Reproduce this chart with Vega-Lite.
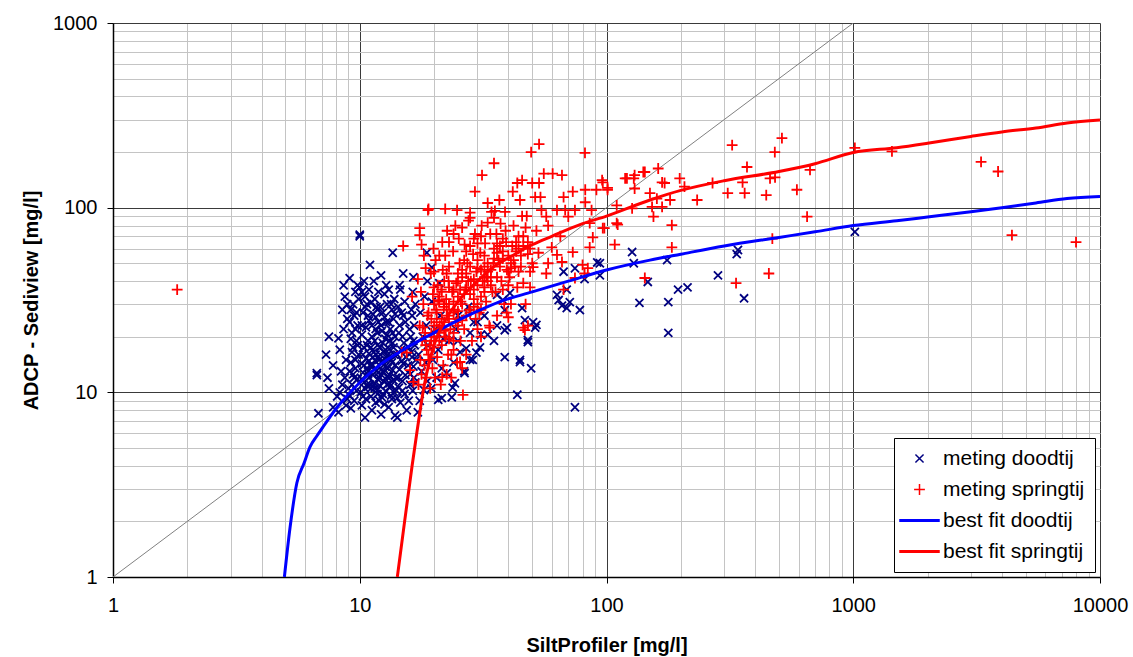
{
"$schema": "https://vega.github.io/schema/vega-lite/v6.json",
"width": 987, "height": 554,
"autosize": {"type": "none"},
"padding": {"left": 113, "top": 23, "right": 33, "bottom": 80},
"background": "white",
"config": {"view": {"stroke": null}, "font": "Liberation Sans"},
"datasets": {
"diag": [{"x":1,"y":1},{"x":1000,"y":1000}],
"fits": [
{"s":"best fit doodtij","x":4.95,"y":1},{"s":"best fit doodtij","x":5.22,"y":1.86},{"s":"best fit doodtij","x":5.56,"y":3.23},{"s":"best fit doodtij","x":5.95,"y":4.14},{"s":"best fit doodtij","x":6.28,"y":5.05},{"s":"best fit doodtij","x":6.7,"y":5.8},{"s":"best fit doodtij","x":7.1,"y":6.5},{"s":"best fit doodtij","x":8.1,"y":8.3},{"s":"best fit doodtij","x":9.8,"y":11},{"s":"best fit doodtij","x":12,"y":14},{"s":"best fit doodtij","x":15,"y":17},{"s":"best fit doodtij","x":20,"y":21},{"s":"best fit doodtij","x":25,"y":24.5},{"s":"best fit doodtij","x":30,"y":27.5},{"s":"best fit doodtij","x":37,"y":31},{"s":"best fit doodtij","x":50,"y":35},{"s":"best fit doodtij","x":70,"y":40},{"s":"best fit doodtij","x":100,"y":46},{"s":"best fit doodtij","x":150,"y":52},{"s":"best fit doodtij","x":200,"y":56},{"s":"best fit doodtij","x":300,"y":62},{"s":"best fit doodtij","x":500,"y":69},{"s":"best fit doodtij","x":700,"y":74},{"s":"best fit doodtij","x":1000,"y":80},{"s":"best fit doodtij","x":1500,"y":85},{"s":"best fit doodtij","x":2000,"y":89},{"s":"best fit doodtij","x":3000,"y":95},{"s":"best fit doodtij","x":4000,"y":100},{"s":"best fit doodtij","x":5500,"y":106},{"s":"best fit doodtij","x":7350,"y":112},{"s":"best fit doodtij","x":10000,"y":115},
{"s":"best fit springtij","x":14.2,"y":1},{"s":"best fit springtij","x":15.2,"y":2},{"s":"best fit springtij","x":16.3,"y":4},{"s":"best fit springtij","x":17.1,"y":6.25},{"s":"best fit springtij","x":18.2,"y":10.7},{"s":"best fit springtij","x":19,"y":14},{"s":"best fit springtij","x":20,"y":18},{"s":"best fit springtij","x":22,"y":24},{"s":"best fit springtij","x":25,"y":31},{"s":"best fit springtij","x":30,"y":40},{"s":"best fit springtij","x":35,"y":48},{"s":"best fit springtij","x":40.6,"y":54},{"s":"best fit springtij","x":50,"y":63},{"s":"best fit springtij","x":60,"y":70},{"s":"best fit springtij","x":80,"y":82},{"s":"best fit springtij","x":100,"y":90},{"s":"best fit springtij","x":150,"y":110},{"s":"best fit springtij","x":200,"y":124},{"s":"best fit springtij","x":300,"y":140},{"s":"best fit springtij","x":500,"y":157},{"s":"best fit springtij","x":700,"y":173},{"s":"best fit springtij","x":1000,"y":199},{"s":"best fit springtij","x":1500,"y":211},{"s":"best fit springtij","x":2000,"y":223},{"s":"best fit springtij","x":3000,"y":243},{"s":"best fit springtij","x":4000,"y":257},{"s":"best fit springtij","x":5500,"y":270},{"s":"best fit springtij","x":7350,"y":287},{"s":"best fit springtij","x":10000,"y":298}
],
"meting": [
{"s":"meting doodtij","x":10,"y":70},{"s":"meting doodtij","x":10,"y":71.5},{"s":"meting doodtij","x":13.6,"y":57},{"s":"meting doodtij","x":18.7,"y":57},{"s":"meting doodtij","x":11,"y":49},{"s":"meting doodtij","x":9.1,"y":41.5},{"s":"meting doodtij","x":10,"y":37},{"s":"meting doodtij","x":19.6,"y":47.5},{"s":"meting doodtij","x":21,"y":39},{"s":"meting doodtij","x":6.7,"y":12.4},{"s":"meting doodtij","x":6.8,"y":7.7},{"s":"meting doodtij","x":7.8,"y":8.3},{"s":"meting doodtij","x":8.2,"y":7.8},{"s":"meting doodtij","x":10.5,"y":7.3},{"s":"meting doodtij","x":13.9,"y":7.5},{"s":"meting doodtij","x":14.2,"y":7.3},{"s":"meting doodtij","x":15.5,"y":8},{"s":"meting doodtij","x":17.2,"y":7.8},{"s":"meting doodtij","x":20.8,"y":9.1},{"s":"meting doodtij","x":21.5,"y":9.3},{"s":"meting doodtij","x":23.6,"y":9.4},{"s":"meting doodtij","x":23.8,"y":10.6},{"s":"meting doodtij","x":24.3,"y":11.2},{"s":"meting doodtij","x":26.6,"y":12.7},{"s":"meting doodtij","x":28.7,"y":15},{"s":"meting doodtij","x":29.7,"y":16.4},{"s":"meting doodtij","x":30.7,"y":17.5},{"s":"meting doodtij","x":27,"y":17.3},{"s":"meting doodtij","x":33,"y":20.5},{"s":"meting doodtij","x":38.7,"y":15.5},{"s":"meting doodtij","x":44.6,"y":14.6},{"s":"meting doodtij","x":49.5,"y":13.5},{"s":"meting doodtij","x":43.5,"y":9.7},{"s":"meting doodtij","x":74.5,"y":8.3},{"s":"meting doodtij","x":38.7,"y":21.7},{"s":"meting doodtij","x":39.5,"y":22.4},{"s":"meting doodtij","x":45.5,"y":28.6},{"s":"meting doodtij","x":38.7,"y":27.9},{"s":"meting doodtij","x":46.7,"y":24.6},{"s":"meting doodtij","x":50.4,"y":24},{"s":"meting doodtij","x":52,"y":23.2},{"s":"meting doodtij","x":51.4,"y":22.4},{"s":"meting doodtij","x":48,"y":19.2},{"s":"meting doodtij","x":48,"y":18.7},{"s":"meting doodtij","x":44.6,"y":15},{"s":"meting doodtij","x":67,"y":45},{"s":"meting doodtij","x":74.5,"y":47},{"s":"meting doodtij","x":91.7,"y":50.5},{"s":"meting doodtij","x":94,"y":43},{"s":"meting doodtij","x":94,"y":50},{"s":"meting doodtij","x":81.5,"y":41},{"s":"meting doodtij","x":69,"y":36},{"s":"meting doodtij","x":63,"y":33.7},{"s":"meting doodtij","x":64,"y":31.6},{"s":"meting doodtij","x":66,"y":29.5},{"s":"meting doodtij","x":71,"y":30.8},{"s":"meting doodtij","x":69,"y":28.6},{"s":"meting doodtij","x":78,"y":27.9},{"s":"meting doodtij","x":127,"y":57.5},{"s":"meting doodtij","x":129,"y":50},{"s":"meting doodtij","x":176,"y":52},{"s":"meting doodtij","x":147,"y":39.6},{"s":"meting doodtij","x":136,"y":30.5},{"s":"meting doodtij","x":178,"y":30.8},{"s":"meting doodtij","x":178,"y":21},{"s":"meting doodtij","x":195,"y":36},{"s":"meting doodtij","x":213,"y":37},{"s":"meting doodtij","x":283,"y":43},{"s":"meting doodtij","x":341,"y":59},{"s":"meting doodtij","x":337,"y":56},{"s":"meting doodtij","x":361,"y":32.3},{"s":"meting doodtij","x":1015,"y":74},{"s":"meting doodtij","x":8.2,"y":19.6},{"s":"meting doodtij","x":7.3,"y":16},{"s":"meting doodtij","x":7.5,"y":10.5},{"s":"meting doodtij","x":8.6,"y":38},{"s":"meting doodtij","x":8.9,"y":30},{"s":"meting doodtij","x":12.2,"y":43},{"s":"meting doodtij","x":15,"y":44},{"s":"meting doodtij","x":16.5,"y":42},{"s":"meting doodtij","x":14.5,"y":38},{"s":"meting doodtij","x":35,"y":19},{"s":"meting doodtij","x":36,"y":23},{"s":"meting doodtij","x":32,"y":26},{"s":"meting doodtij","x":30,"y":24},{"s":"meting doodtij","x":28,"y":21},{"s":"meting doodtij","x":25,"y":19},{"s":"meting doodtij","x":40.6,"y":34.5},{"s":"meting doodtij","x":38,"y":31.6},{"s":"meting doodtij","x":36,"y":33.7},{"s":"meting doodtij","x":6.7,"y":12.7},
{"s":"meting doodtij","x":7.4,"y":12},{"s":"meting doodtij","x":7.8,"y":14},{"s":"meting doodtij","x":7.5,"y":20},
{"s":"meting doodtij","x":8.1,"y":9.5},{"s":"meting doodtij","x":8.3,"y":10},{"s":"meting doodtij","x":8.5,"y":11},{"s":"meting doodtij","x":8.7,"y":12},{"s":"meting doodtij","x":8.4,"y":13},{"s":"meting doodtij","x":8.8,"y":15},{"s":"meting doodtij","x":8.3,"y":17},{"s":"meting doodtij","x":8.6,"y":22},{"s":"meting doodtij","x":8.9,"y":25},{"s":"meting doodtij","x":8.5,"y":28},{"s":"meting doodtij","x":8.7,"y":33},{"s":"meting doodtij","x":8.8,"y":8.5},{"s":"meting doodtij","x":8.9,"y":9.2},
{"s":"meting doodtij","x":9.2,"y":8.2},{"s":"meting doodtij","x":9.5,"y":9},{"s":"meting doodtij","x":9.1,"y":9.6},{"s":"meting doodtij","x":9.7,"y":10.2},{"s":"meting doodtij","x":9.3,"y":11},{"s":"meting doodtij","x":9.8,"y":11.8},{"s":"meting doodtij","x":9.4,"y":12.5},{"s":"meting doodtij","x":9.6,"y":13.5},{"s":"meting doodtij","x":9.2,"y":14.5},{"s":"meting doodtij","x":9.9,"y":16},{"s":"meting doodtij","x":9.4,"y":17.5},{"s":"meting doodtij","x":9.7,"y":19},{"s":"meting doodtij","x":9.3,"y":21},{"s":"meting doodtij","x":9.8,"y":23},{"s":"meting doodtij","x":9.5,"y":26},{"s":"meting doodtij","x":9.2,"y":28},{"s":"meting doodtij","x":9.9,"y":32},{"s":"meting doodtij","x":9.6,"y":35},
{"s":"meting doodtij","x":10.2,"y":8.5},{"s":"meting doodtij","x":10.6,"y":9.2},{"s":"meting doodtij","x":10.1,"y":10},{"s":"meting doodtij","x":10.8,"y":10.7},{"s":"meting doodtij","x":10.4,"y":11.3},{"s":"meting doodtij","x":10.9,"y":12},{"s":"meting doodtij","x":10.3,"y":12.8},{"s":"meting doodtij","x":10.7,"y":13.5},{"s":"meting doodtij","x":10.2,"y":14.3},{"s":"meting doodtij","x":10.6,"y":15.2},{"s":"meting doodtij","x":10.9,"y":16.2},{"s":"meting doodtij","x":10.4,"y":17.5},{"s":"meting doodtij","x":10.8,"y":19},{"s":"meting doodtij","x":10.2,"y":20.5},{"s":"meting doodtij","x":10.6,"y":22.5},{"s":"meting doodtij","x":10.9,"y":24.5},{"s":"meting doodtij","x":10.3,"y":27},{"s":"meting doodtij","x":10.7,"y":30},{"s":"meting doodtij","x":10.5,"y":33},{"s":"meting doodtij","x":10.9,"y":36},{"s":"meting doodtij","x":10.4,"y":40},
{"s":"meting doodtij","x":11.2,"y":8},{"s":"meting doodtij","x":11.6,"y":8.8},{"s":"meting doodtij","x":11.1,"y":9.5},{"s":"meting doodtij","x":11.8,"y":10.3},{"s":"meting doodtij","x":11.4,"y":11},{"s":"meting doodtij","x":11.9,"y":11.7},{"s":"meting doodtij","x":11.3,"y":12.4},{"s":"meting doodtij","x":11.7,"y":13.1},{"s":"meting doodtij","x":11.2,"y":13.9},{"s":"meting doodtij","x":11.6,"y":14.7},{"s":"meting doodtij","x":11.9,"y":15.6},{"s":"meting doodtij","x":11.4,"y":16.5},{"s":"meting doodtij","x":11.8,"y":18},{"s":"meting doodtij","x":11.2,"y":20},{"s":"meting doodtij","x":11.6,"y":22},{"s":"meting doodtij","x":11.9,"y":24},{"s":"meting doodtij","x":11.3,"y":26.5},{"s":"meting doodtij","x":11.7,"y":29},{"s":"meting doodtij","x":11.5,"y":32},{"s":"meting doodtij","x":11.9,"y":35},{"s":"meting doodtij","x":11.4,"y":40},
{"s":"meting doodtij","x":12.2,"y":7.6},{"s":"meting doodtij","x":12.6,"y":8.6},{"s":"meting doodtij","x":12.3,"y":9.4},{"s":"meting doodtij","x":12.8,"y":10.1},{"s":"meting doodtij","x":12.1,"y":10.8},{"s":"meting doodtij","x":12.5,"y":11.5},{"s":"meting doodtij","x":12.9,"y":12.2},{"s":"meting doodtij","x":12.4,"y":13},{"s":"meting doodtij","x":12.7,"y":13.8},{"s":"meting doodtij","x":12.2,"y":14.6},{"s":"meting doodtij","x":12.8,"y":15.5},{"s":"meting doodtij","x":12.5,"y":16.5},{"s":"meting doodtij","x":12.1,"y":17.5},{"s":"meting doodtij","x":12.7,"y":19.5},{"s":"meting doodtij","x":12.3,"y":21.5},{"s":"meting doodtij","x":12.8,"y":24},{"s":"meting doodtij","x":12.4,"y":27},{"s":"meting doodtij","x":12.9,"y":30},{"s":"meting doodtij","x":12.6,"y":34},
{"s":"meting doodtij","x":13.1,"y":8.3},{"s":"meting doodtij","x":13.5,"y":9.2},{"s":"meting doodtij","x":13.8,"y":10},{"s":"meting doodtij","x":13.3,"y":10.8},{"s":"meting doodtij","x":13.7,"y":11.6},{"s":"meting doodtij","x":13.2,"y":12.4},{"s":"meting doodtij","x":13.6,"y":13.2},{"s":"meting doodtij","x":13.9,"y":14},{"s":"meting doodtij","x":13.4,"y":15},{"s":"meting doodtij","x":13.8,"y":16},{"s":"meting doodtij","x":13.2,"y":17.2},{"s":"meting doodtij","x":13.6,"y":18.5},{"s":"meting doodtij","x":13.9,"y":20},{"s":"meting doodtij","x":13.3,"y":22},{"s":"meting doodtij","x":13.7,"y":25},{"s":"meting doodtij","x":13.5,"y":28},{"s":"meting doodtij","x":13.8,"y":32},
{"s":"meting doodtij","x":14.6,"y":8.8},{"s":"meting doodtij","x":15.2,"y":9.8},{"s":"meting doodtij","x":14.4,"y":10.6},{"s":"meting doodtij","x":14.9,"y":11.5},{"s":"meting doodtij","x":15.3,"y":12.4},{"s":"meting doodtij","x":14.5,"y":13.3},{"s":"meting doodtij","x":15,"y":14.3},{"s":"meting doodtij","x":15.4,"y":15.5},{"s":"meting doodtij","x":14.7,"y":17},{"s":"meting doodtij","x":15.1,"y":18.5},{"s":"meting doodtij","x":14.4,"y":21},{"s":"meting doodtij","x":15.3,"y":24},{"s":"meting doodtij","x":14.8,"y":27},{"s":"meting doodtij","x":15.2,"y":31},{"s":"meting doodtij","x":14.6,"y":36},
{"s":"meting doodtij","x":15.8,"y":9},{"s":"meting doodtij","x":16.4,"y":10.2},{"s":"meting doodtij","x":16.8,"y":11.3},{"s":"meting doodtij","x":16,"y":12.5},{"s":"meting doodtij","x":16.5,"y":13.8},{"s":"meting doodtij","x":16.9,"y":15},{"s":"meting doodtij","x":16.2,"y":16.5},{"s":"meting doodtij","x":16.7,"y":18},{"s":"meting doodtij","x":16.1,"y":20},{"s":"meting doodtij","x":16.6,"y":23},{"s":"meting doodtij","x":16.3,"y":26},{"s":"meting doodtij","x":16.8,"y":30},{"s":"meting doodtij","x":16.4,"y":35},
{"s":"meting doodtij","x":17.5,"y":9},{"s":"meting doodtij","x":18.2,"y":10.3},{"s":"meting doodtij","x":18.8,"y":11.5},{"s":"meting doodtij","x":17.8,"y":13},{"s":"meting doodtij","x":18.5,"y":14.5},{"s":"meting doodtij","x":17.3,"y":16},{"s":"meting doodtij","x":18.9,"y":18},{"s":"meting doodtij","x":18,"y":20},{"s":"meting doodtij","x":18.6,"y":23},{"s":"meting doodtij","x":17.6,"y":27},{"s":"meting doodtij","x":18.3,"y":33},{"s":"meting doodtij","x":18.8,"y":40},
{"s":"meting doodtij","x":19.5,"y":10.5},{"s":"meting doodtij","x":20.5,"y":12},{"s":"meting doodtij","x":21.5,"y":13.5},{"s":"meting doodtij","x":19.8,"y":15},{"s":"meting doodtij","x":20.8,"y":17},{"s":"meting doodtij","x":21.8,"y":19.5},{"s":"meting doodtij","x":20.2,"y":22},{"s":"meting doodtij","x":21.2,"y":26},{"s":"meting doodtij","x":19.6,"y":31},
{"s":"meting doodtij","x":22.5,"y":12.7},{"s":"meting doodtij","x":24,"y":14.5},{"s":"meting doodtij","x":25.5,"y":16.5},{"s":"meting doodtij","x":23,"y":19},{"s":"meting doodtij","x":24.5,"y":22},{"s":"meting doodtij","x":25,"y":26},
{"s":"meting doodtij","x":26.5,"y":13},{"s":"meting doodtij","x":28,"y":15},{"s":"meting doodtij","x":31,"y":20.5},{"s":"meting doodtij","x":29,"y":24},{"s":"meting doodtij","x":27.5,"y":29},
{"s":"meting doodtij","x":11,"y":11},{"s":"meting doodtij","x":12,"y":12},{"s":"meting doodtij","x":13,"y":13.5},{"s":"meting doodtij","x":11.5,"y":10.5},{"s":"meting doodtij","x":12.5,"y":12.8},{"s":"meting doodtij","x":10.5,"y":10.5},{"s":"meting doodtij","x":11.8,"y":9.8},{"s":"meting doodtij","x":13.2,"y":11.2},{"s":"meting doodtij","x":12,"y":9},{"s":"meting doodtij","x":14,"y":12},{"s":"meting doodtij","x":11,"y":14},{"s":"meting doodtij","x":12,"y":15},{"s":"meting doodtij","x":13,"y":16},{"s":"meting doodtij","x":10.8,"y":13},{"s":"meting doodtij","x":11.3,"y":15.5},
{"s":"meting doodtij","x":9.0,"y":10.5},{"s":"meting doodtij","x":9.5,"y":12},{"s":"meting doodtij","x":9.1,"y":13},{"s":"meting doodtij","x":9.6,"y":15},{"s":"meting doodtij","x":9.3,"y":16.5},{"s":"meting doodtij","x":9.8,"y":18},{"s":"meting doodtij","x":9.2,"y":19.5},{"s":"meting doodtij","x":9.6,"y":22},{"s":"meting doodtij","x":9.1,"y":24},{"s":"meting doodtij","x":9.7,"y":27},{"s":"meting doodtij","x":9.4,"y":30},{"s":"meting doodtij","x":9.8,"y":38},
{"s":"meting doodtij","x":10.3,"y":9.5},{"s":"meting doodtij","x":10.7,"y":11},{"s":"meting doodtij","x":10.2,"y":11.8},{"s":"meting doodtij","x":10.8,"y":12.5},{"s":"meting doodtij","x":10.4,"y":14},{"s":"meting doodtij","x":10.9,"y":14.8},{"s":"meting doodtij","x":10.3,"y":16},{"s":"meting doodtij","x":10.7,"y":18},{"s":"meting doodtij","x":10.2,"y":23},{"s":"meting doodtij","x":10.8,"y":26},{"s":"meting doodtij","x":10.5,"y":29},{"s":"meting doodtij","x":10.2,"y":35},
{"s":"meting doodtij","x":11.1,"y":10.5},{"s":"meting doodtij","x":11.5,"y":11.2},{"s":"meting doodtij","x":11.9,"y":12.8},{"s":"meting doodtij","x":11.2,"y":14.2},{"s":"meting doodtij","x":11.6,"y":16},{"s":"meting doodtij","x":11.1,"y":17.5},{"s":"meting doodtij","x":11.5,"y":19},{"s":"meting doodtij","x":11.8,"y":21},{"s":"meting doodtij","x":11.2,"y":23},{"s":"meting doodtij","x":11.6,"y":25.5},{"s":"meting doodtij","x":11.8,"y":28},{"s":"meting doodtij","x":11.1,"y":30.5},
{"s":"meting doodtij","x":12.4,"y":9.8},{"s":"meting doodtij","x":12.9,"y":11},{"s":"meting doodtij","x":12.2,"y":12.5},{"s":"meting doodtij","x":12.6,"y":14.2},{"s":"meting doodtij","x":12.1,"y":16},{"s":"meting doodtij","x":12.7,"y":17},{"s":"meting doodtij","x":12.4,"y":18.5},{"s":"meting doodtij","x":12.9,"y":20.5},{"s":"meting doodtij","x":12.2,"y":23},{"s":"meting doodtij","x":12.6,"y":25.5},{"s":"meting doodtij","x":12.1,"y":29},{"s":"meting doodtij","x":12.8,"y":38},
{"s":"meting doodtij","x":13.4,"y":9.6},{"s":"meting doodtij","x":13.9,"y":10.4},{"s":"meting doodtij","x":13.1,"y":11.9},{"s":"meting doodtij","x":13.5,"y":14.5},{"s":"meting doodtij","x":13.1,"y":15.5},{"s":"meting doodtij","x":13.7,"y":17.5},{"s":"meting doodtij","x":13.2,"y":19},{"s":"meting doodtij","x":13.6,"y":21},{"s":"meting doodtij","x":13.1,"y":24},{"s":"meting doodtij","x":13.9,"y":26.5},{"s":"meting doodtij","x":13.4,"y":30},{"s":"meting doodtij","x":13.1,"y":36},
{"s":"meting doodtij","x":14.2,"y":9.3},{"s":"meting doodtij","x":14.9,"y":10.2},{"s":"meting doodtij","x":14.3,"y":12},{"s":"meting doodtij","x":14.8,"y":14.8},{"s":"meting doodtij","x":14.2,"y":16},{"s":"meting doodtij","x":14.9,"y":20},{"s":"meting doodtij","x":14.5,"y":23},{"s":"meting doodtij","x":15,"y":26},{"s":"meting doodtij","x":14.3,"y":29},
{"s":"meting doodtij","x":16,"y":11},{"s":"meting doodtij","x":16.6,"y":12},{"s":"meting doodtij","x":15.7,"y":14},{"s":"meting doodtij","x":16.3,"y":15.5},{"s":"meting doodtij","x":15.8,"y":17.5},{"s":"meting doodtij","x":16.5,"y":19},{"s":"meting doodtij","x":15.9,"y":22},{"s":"meting doodtij","x":16.2,"y":28},
{"s":"meting springtij","x":1.82,"y":36},{"s":"meting springtij","x":53.3,"y":221},{"s":"meting springtij","x":49.5,"y":200},{"s":"meting springtij","x":35,"y":174},{"s":"meting springtij","x":31.3,"y":150},{"s":"meting springtij","x":55.7,"y":153},{"s":"meting springtij","x":53.3,"y":136},{"s":"meting springtij","x":45.5,"y":141},{"s":"meting springtij","x":43.5,"y":136},{"s":"meting springtij","x":41.7,"y":122},{"s":"meting springtij","x":29.3,"y":122},{"s":"meting springtij","x":44.6,"y":110},{"s":"meting springtij","x":19,"y":98.5},{"s":"meting springtij","x":22.2,"y":98.5},{"s":"meting springtij","x":24.8,"y":97},{"s":"meting springtij","x":28,"y":94},{"s":"meting springtij","x":33,"y":106},{"s":"meting springtij","x":35.3,"y":96},{"s":"meting springtij","x":17.5,"y":77.5},{"s":"meting springtij","x":17.5,"y":71},{"s":"meting springtij","x":15,"y":62},{"s":"meting springtij","x":51.4,"y":114},{"s":"meting springtij","x":81.8,"y":198},{"s":"meting springtij","x":96,"y":141},{"s":"meting springtij","x":101,"y":128},{"s":"meting springtij","x":121,"y":144},{"s":"meting springtij","x":130,"y":150},{"s":"meting springtij","x":143,"y":156},{"s":"meting springtij","x":66,"y":150},{"s":"meting springtij","x":60.5,"y":153},{"s":"meting springtij","x":73,"y":122},{"s":"meting springtij","x":82,"y":125},{"s":"meting springtij","x":91,"y":125},{"s":"meting springtij","x":82,"y":107},{"s":"meting springtij","x":74.5,"y":97},{"s":"meting springtij","x":87,"y":97},{"s":"meting springtij","x":67,"y":114},{"s":"meting springtij","x":63,"y":97},{"s":"meting springtij","x":54.5,"y":97},{"s":"meting springtij","x":57,"y":89.5},{"s":"meting springtij","x":70,"y":89.5},{"s":"meting springtij","x":85.5,"y":82.5},{"s":"meting springtij","x":98,"y":77.5},{"s":"meting springtij","x":110,"y":82.5},{"s":"meting springtij","x":88,"y":69},{"s":"meting springtij","x":85.5,"y":61},{"s":"meting springtij","x":73,"y":57.5},{"s":"meting springtij","x":63,"y":55.5},{"s":"meting springtij","x":66,"y":50.8},{"s":"meting springtij","x":58,"y":50},{"s":"meting springtij","x":50.4,"y":47.6},{"s":"meting springtij","x":49,"y":45},{"s":"meting springtij","x":46,"y":39},{"s":"meting springtij","x":49,"y":37},{"s":"meting springtij","x":80,"y":49},{"s":"meting springtij","x":81.5,"y":44},{"s":"meting springtij","x":67,"y":36},{"s":"meting springtij","x":46.7,"y":21.7},{"s":"meting springtij","x":48,"y":23},{"s":"meting springtij","x":40,"y":25.5},{"s":"meting springtij","x":33.7,"y":22.4},{"s":"meting springtij","x":32.6,"y":42},{"s":"meting springtij","x":25,"y":44},{"s":"meting springtij","x":20,"y":37},{"s":"meting springtij","x":20.8,"y":31.6},{"s":"meting springtij","x":46,"y":22.4},{"s":"meting springtij","x":74.5,"y":41.6},{"s":"meting springtij","x":84,"y":47},{"s":"meting springtij","x":39.4,"y":27},
{"s":"meting springtij","x":323,"y":218},{"s":"meting springtij","x":514,"y":238},{"s":"meting springtij","x":481,"y":200},{"s":"meting springtij","x":371,"y":166},{"s":"meting springtij","x":668,"y":160},{"s":"meting springtij","x":460,"y":144},{"s":"meting springtij","x":482,"y":146},{"s":"meting springtij","x":356,"y":137},{"s":"meting springtij","x":591,"y":125},{"s":"meting springtij","x":310,"y":120},{"s":"meting springtij","x":363,"y":120},{"s":"meting springtij","x":444,"y":117},{"s":"meting springtij","x":269,"y":136},{"s":"meting springtij","x":233,"y":110},{"s":"meting springtij","x":650,"y":89.5},{"s":"meting springtij","x":470,"y":68},{"s":"meting springtij","x":455,"y":44},{"s":"meting springtij","x":335,"y":39},{"s":"meting springtij","x":143,"y":41.6},{"s":"meting springtij","x":184,"y":61},{"s":"meting springtij","x":184,"y":80.5},{"s":"meting springtij","x":198,"y":144},{"s":"meting springtij","x":207,"y":130},{"s":"meting springtij","x":172,"y":136},{"s":"meting springtij","x":162,"y":163},{"s":"meting springtij","x":141,"y":156},{"s":"meting springtij","x":129,"y":144},{"s":"meting springtij","x":119,"y":144},{"s":"meting springtij","x":130,"y":127},{"s":"meting springtij","x":150,"y":120},{"s":"meting springtij","x":160,"y":112},{"s":"meting springtij","x":168,"y":137},{"s":"meting springtij","x":181,"y":110},{"s":"meting springtij","x":153,"y":101},{"s":"meting springtij","x":168,"y":101},{"s":"meting springtij","x":155,"y":89.5},{"s":"meting springtij","x":127,"y":99},{"s":"meting springtij","x":110,"y":103},{"s":"meting springtij","x":96.6,"y":137},{"s":"meting springtij","x":101,"y":125},{"s":"meting springtij","x":96.6,"y":77.5},{"s":"meting springtij","x":111,"y":81},{"s":"meting springtij","x":108,"y":63},
{"s":"meting springtij","x":1015,"y":211},{"s":"meting springtij","x":1435,"y":202},{"s":"meting springtij","x":3296,"y":177},{"s":"meting springtij","x":3863,"y":157},{"s":"meting springtij","x":4397,"y":71},{"s":"meting springtij","x":7996,"y":65},
{"s":"meting springtij","x":18.9,"y":97},{"s":"meting springtij","x":17.2,"y":41},{"s":"meting springtij","x":16.3,"y":33},{"s":"meting springtij","x":14.8,"y":16.5},{"s":"meting springtij","x":15.5,"y":16.4},{"s":"meting springtij","x":16,"y":13.2},{"s":"meting springtij","x":16.5,"y":11.4},{"s":"meting springtij","x":26.2,"y":9.7},{"s":"meting springtij","x":21.6,"y":12.1},{"s":"meting springtij","x":26,"y":13.5},{"s":"meting springtij","x":25.5,"y":14.6},
{"s":"meting springtij","x":17.3,"y":11},{"s":"meting springtij","x":17.8,"y":12.5},{"s":"meting springtij","x":18.3,"y":14},{"s":"meting springtij","x":17.6,"y":15},{"s":"meting springtij","x":18.7,"y":17},{"s":"meting springtij","x":17.9,"y":19},{"s":"meting springtij","x":18.4,"y":21},{"s":"meting springtij","x":17.5,"y":23},{"s":"meting springtij","x":18.8,"y":26},{"s":"meting springtij","x":18.1,"y":30},{"s":"meting springtij","x":17.7,"y":35},{"s":"meting springtij","x":18.5,"y":47},{"s":"meting springtij","x":18.2,"y":55},{"s":"meting springtij","x":17.8,"y":63},
{"s":"meting springtij","x":19.3,"y":10.5},{"s":"meting springtij","x":20.2,"y":12},{"s":"meting springtij","x":19.7,"y":13.5},{"s":"meting springtij","x":20.6,"y":15.5},{"s":"meting springtij","x":19.2,"y":18},{"s":"meting springtij","x":20,"y":20},{"s":"meting springtij","x":20.8,"y":22},{"s":"meting springtij","x":19.5,"y":25},{"s":"meting springtij","x":20.4,"y":28},{"s":"meting springtij","x":19.8,"y":34},{"s":"meting springtij","x":20.7,"y":38},{"s":"meting springtij","x":19.4,"y":44},{"s":"meting springtij","x":20.3,"y":52},{"s":"meting springtij","x":19.9,"y":60},
{"s":"meting springtij","x":21.3,"y":11},{"s":"meting springtij","x":22.5,"y":12.5},{"s":"meting springtij","x":21.8,"y":14},{"s":"meting springtij","x":22.8,"y":16},{"s":"meting springtij","x":21.5,"y":18},{"s":"meting springtij","x":22.3,"y":20},{"s":"meting springtij","x":21.1,"y":23},{"s":"meting springtij","x":22.7,"y":26},{"s":"meting springtij","x":21.9,"y":29},{"s":"meting springtij","x":22.4,"y":32},{"s":"meting springtij","x":21.4,"y":36},{"s":"meting springtij","x":22.9,"y":40},{"s":"meting springtij","x":21.7,"y":46},{"s":"meting springtij","x":22.2,"y":55},{"s":"meting springtij","x":21.6,"y":65},{"s":"meting springtij","x":22.6,"y":75},
{"s":"meting springtij","x":23.5,"y":12},{"s":"meting springtij","x":24.8,"y":14.5},{"s":"meting springtij","x":24,"y":17},{"s":"meting springtij","x":25.6,"y":19},{"s":"meting springtij","x":23.3,"y":22},{"s":"meting springtij","x":25,"y":25},{"s":"meting springtij","x":24.2,"y":28},{"s":"meting springtij","x":25.7,"y":31},{"s":"meting springtij","x":23.7,"y":35},{"s":"meting springtij","x":24.6,"y":39},{"s":"meting springtij","x":25.4,"y":50},{"s":"meting springtij","x":23.9,"y":58},{"s":"meting springtij","x":25.2,"y":68},{"s":"meting springtij","x":24.4,"y":80},
{"s":"meting springtij","x":27,"y":16},{"s":"meting springtij","x":28.5,"y":19},{"s":"meting springtij","x":26.5,"y":22},{"s":"meting springtij","x":29.5,"y":25},{"s":"meting springtij","x":27.8,"y":28},{"s":"meting springtij","x":29,"y":32},{"s":"meting springtij","x":26.8,"y":36},{"s":"meting springtij","x":28.2,"y":40},{"s":"meting springtij","x":29.7,"y":45},{"s":"meting springtij","x":27.3,"y":50},{"s":"meting springtij","x":28.8,"y":56},{"s":"meting springtij","x":26.6,"y":63},{"s":"meting springtij","x":29.3,"y":72},{"s":"meting springtij","x":27.6,"y":85},
{"s":"meting springtij","x":31,"y":20},{"s":"meting springtij","x":33.5,"y":23},{"s":"meting springtij","x":30.5,"y":27},{"s":"meting springtij","x":32.5,"y":31},{"s":"meting springtij","x":34.5,"y":35},{"s":"meting springtij","x":31.5,"y":40},{"s":"meting springtij","x":33,"y":45},{"s":"meting springtij","x":34.8,"y":50},{"s":"meting springtij","x":30.8,"y":57},{"s":"meting springtij","x":32.2,"y":64},{"s":"meting springtij","x":33.8,"y":72},{"s":"meting springtij","x":31.2,"y":80},{"s":"meting springtij","x":34.2,"y":95},
{"s":"meting springtij","x":36,"y":26},{"s":"meting springtij","x":38.5,"y":30},{"s":"meting springtij","x":35.5,"y":35},{"s":"meting springtij","x":37.5,"y":40},{"s":"meting springtij","x":39.5,"y":46},{"s":"meting springtij","x":36.5,"y":52},{"s":"meting springtij","x":38,"y":58},{"s":"meting springtij","x":39.2,"y":65},{"s":"meting springtij","x":35.8,"y":72},{"s":"meting springtij","x":37.2,"y":82},{"s":"meting springtij","x":38.8,"y":95},{"s":"meting springtij","x":36.8,"y":110},
{"s":"meting springtij","x":41,"y":30},{"s":"meting springtij","x":43.5,"y":37},{"s":"meting springtij","x":40.5,"y":42},{"s":"meting springtij","x":42.5,"y":48},{"s":"meting springtij","x":45,"y":55},{"s":"meting springtij","x":41.5,"y":62},{"s":"meting springtij","x":44,"y":70},{"s":"meting springtij","x":42,"y":80},{"s":"meting springtij","x":45.5,"y":90},
{"s":"meting springtij","x":47,"y":30},{"s":"meting springtij","x":50,"y":50},{"s":"meting springtij","x":53,"y":57},{"s":"meting springtij","x":48,"y":65},{"s":"meting springtij","x":52,"y":75},{"s":"meting springtij","x":47.5,"y":90},{"s":"meting springtij","x":54,"y":114},{"s":"meting springtij","x":50,"y":136},
{"s":"meting springtij","x":57,"y":44},{"s":"meting springtij","x":60,"y":61},{"s":"meting springtij","x":65,"y":70},{"s":"meting springtij","x":58,"y":80},{"s":"meting springtij","x":68,"y":97},
{"s":"meting springtij","x":22,"y":24},{"s":"meting springtij","x":24,"y":27},{"s":"meting springtij","x":26,"y":30},{"s":"meting springtij","x":28,"y":34},{"s":"meting springtij","x":30,"y":38},{"s":"meting springtij","x":32,"y":42},{"s":"meting springtij","x":34,"y":46},{"s":"meting springtij","x":23,"y":30},{"s":"meting springtij","x":25,"y":33},{"s":"meting springtij","x":27,"y":37},{"s":"meting springtij","x":29,"y":41},{"s":"meting springtij","x":31,"y":46},{"s":"meting springtij","x":33,"y":50},{"s":"meting springtij","x":21,"y":21},{"s":"meting springtij","x":23,"y":25},{"s":"meting springtij","x":25,"y":23},{"s":"meting springtij","x":27,"y":26},{"s":"meting springtij","x":29,"y":29},{"s":"meting springtij","x":31,"y":33},{"s":"meting springtij","x":20.5,"y":24},{"s":"meting springtij","x":22,"y":30},{"s":"meting springtij","x":24,"y":36},{"s":"meting springtij","x":26,"y":42},{"s":"meting springtij","x":28,"y":48},{"s":"meting springtij","x":30,"y":52},{"s":"meting springtij","x":19,"y":16},{"s":"meting springtij","x":20,"y":17.5},{"s":"meting springtij","x":21,"y":19},{"s":"meting springtij","x":22,"y":21.5},{"s":"meting springtij","x":23,"y":19.5},{"s":"meting springtij","x":24,"y":21},{"s":"meting springtij","x":26,"y":24.5},{"s":"meting springtij","x":28,"y":27},{"s":"meting springtij","x":30,"y":30},{"s":"meting springtij","x":32,"y":35},{"s":"meting springtij","x":18,"y":22.5},{"s":"meting springtij","x":19,"y":27},{"s":"meting springtij","x":20,"y":30},{"s":"meting springtij","x":21,"y":33},{"s":"meting springtij","x":23,"y":37},{"s":"meting springtij","x":25,"y":40},{"s":"meting springtij","x":27,"y":44},{"s":"meting springtij","x":30,"y":47},{"s":"meting springtij","x":32,"y":55},{"s":"meting springtij","x":35,"y":60},{"s":"meting springtij","x":37,"y":48},{"s":"meting springtij","x":38,"y":53},{"s":"meting springtij","x":40,"y":55},{"s":"meting springtij","x":41,"y":50},{"s":"meting springtij","x":43,"y":58},{"s":"meting springtij","x":46,"y":62},{"s":"meting springtij","x":36,"y":42},{"s":"meting springtij","x":34,"y":38},{"s":"meting springtij","x":38,"y":36},{"s":"meting springtij","x":40,"y":38},{"s":"meting springtij","x":44,"y":45},
{"s":"meting springtij","x":18.6,"y":12},{"s":"meting springtij","x":19,"y":15},{"s":"meting springtij","x":19.5,"y":19},{"s":"meting springtij","x":20,"y":23},{"s":"meting springtij","x":20.5,"y":27},{"s":"meting springtij","x":21,"y":31},{"s":"meting springtij","x":21.5,"y":35},{"s":"meting springtij","x":22,"y":40},{"s":"meting springtij","x":22.5,"y":44},{"s":"meting springtij","x":23,"y":48},
{"s":"meting springtij","x":23.5,"y":16},{"s":"meting springtij","x":24,"y":19},{"s":"meting springtij","x":24.5,"y":24},{"s":"meting springtij","x":25,"y":27.5},{"s":"meting springtij","x":25.5,"y":36},{"s":"meting springtij","x":26,"y":46},{"s":"meting springtij","x":26.5,"y":52},{"s":"meting springtij","x":27,"y":58},{"s":"meting springtij","x":28,"y":62},{"s":"meting springtij","x":29,"y":68},
{"s":"meting springtij","x":30,"y":22},{"s":"meting springtij","x":31,"y":28},{"s":"meting springtij","x":32,"y":37},{"s":"meting springtij","x":33,"y":40},{"s":"meting springtij","x":34,"y":42},{"s":"meting springtij","x":35,"y":53},{"s":"meting springtij","x":36,"y":57},{"s":"meting springtij","x":37,"y":62},{"s":"meting springtij","x":38,"y":68},{"s":"meting springtij","x":39,"y":75},
{"s":"meting springtij","x":40,"y":45},{"s":"meting springtij","x":41,"y":47},{"s":"meting springtij","x":42,"y":52},{"s":"meting springtij","x":43,"y":65},{"s":"meting springtij","x":44,"y":60},{"s":"meting springtij","x":45,"y":48},{"s":"meting springtij","x":46,"y":70},{"s":"meting springtij","x":47,"y":78},{"s":"meting springtij","x":48,"y":56},{"s":"meting springtij","x":49,"y":60},
{"s":"meting springtij","x":20,"y":45},{"s":"meting springtij","x":21,"y":55},{"s":"meting springtij","x":23,"y":65},{"s":"meting springtij","x":24,"y":72},{"s":"meting springtij","x":26,"y":78},{"s":"meting springtij","x":28,"y":88},{"s":"meting springtij","x":30,"y":64},{"s":"meting springtij","x":31,"y":70},{"s":"meting springtij","x":33,"y":83},{"s":"meting springtij","x":35,"y":88},
{"s":"meting springtij","x":18.5,"y":18},{"s":"meting springtij","x":19.5,"y":21},{"s":"meting springtij","x":21.5,"y":25},{"s":"meting springtij","x":22.5,"y":28},{"s":"meting springtij","x":24,"y":31},{"s":"meting springtij","x":26.5,"y":34},{"s":"meting springtij","x":27.5,"y":40},{"s":"meting springtij","x":29,"y":36},{"s":"meting springtij","x":32,"y":48},{"s":"meting springtij","x":36,"y":64}
]
},
"layer": [
{
"data": {"name": "diag"},
"mark": {"type": "line", "color": "#808080", "strokeWidth": 1, "clip": true},
"encoding": {
"x": {"field": "x", "type": "quantitative",
"scale": {"type": "log", "domain": [1, 10000], "nice": false, "zero": false},
"axis": {
"title": "SiltProfiler [mg/l]", "titleFont": "Liberation Sans", "titleFontSize": 20, "titleFontWeight": "bold", "titleColor": "black", "titlePadding": 20,
"values": [1,2,3,4,5,6,7,8,9,10,20,30,40,50,60,70,80,90,100,200,300,400,500,600,700,800,900,1000,2000,3000,4000,5000,6000,7000,8000,9000,10000],
"labelExpr": "indexof([1,10,100,1000,10000], datum.value) >= 0 ? datum.value + '' : ''",
"labelFont": "Liberation Sans", "labelFontSize": 20, "labelColor": "black", "labelPadding": 12, "labelOverlap": false, "labelFlush": false, "labelBound": false,
"tickSize": 6, "tickWidth": 1,
"tickColor": {"condition": {"test": "indexof([1,10,100,1000,10000], datum.value) >= 0", "value": "black"}, "value": "transparent"},
"grid": true, "gridWidth": 1,
"gridColor": {"condition": {"test": "indexof([1,10,100,1000,10000], datum.value) >= 0", "value": "#3a3a3a"}, "value": "#c4c4c4"},
"domainColor": "black", "domainWidth": 1.5
}},
"y": {"field": "y", "type": "quantitative",
"scale": {"type": "log", "domain": [1, 1000], "nice": false, "zero": false},
"axis": {
"title": "ADCP - Sediview [mg/l]", "titleFont": "Liberation Sans", "titleFontSize": 20, "titleFontWeight": "bold", "titleColor": "black", "titlePadding": 11,
"values": [1,2,3,4,5,6,7,8,9,10,20,30,40,50,60,70,80,90,100,200,300,400,500,600,700,800,900,1000],
"labelExpr": "indexof([1,10,100,1000], datum.value) >= 0 ? datum.value + '' : ''",
"labelFont": "Liberation Sans", "labelFontSize": 20, "labelColor": "black", "labelPadding": 10, "labelOverlap": false, "labelBound": false, "labelFlush": false,
"tickSize": 6, "tickWidth": 1,
"tickColor": {"condition": {"test": "indexof([1,10,100,1000], datum.value) >= 0", "value": "black"}, "value": "transparent"},
"grid": true, "gridWidth": 1,
"gridColor": {"condition": {"test": "indexof([1,10,100,1000], datum.value) >= 0", "value": "#3a3a3a"}, "value": "#c4c4c4"},
"domainColor": "black", "domainWidth": 1.5
}}
}
},
{
"data": {"name": "meting"},
"mark": {"type": "point", "filled": false, "strokeWidth": 1.8, "opacity": 1, "size": 81, "clip": true},
"encoding": {
"x": {"field": "x", "type": "quantitative"},
"y": {"field": "y", "type": "quantitative"},
"color": {"field": "s", "type": "nominal",
"scale": {"domain": ["meting doodtij", "meting springtij", "best fit doodtij", "best fit springtij"], "range": ["#000080", "#ff0000", "#0000ff", "#ff0000"]},
"legend": {"title": null, "orient": "bottom-right", "offset": 5, "padding": 10, "strokeColor": "black", "fillColor": "white", "cornerRadius": 0,
"labelFont": "Liberation Sans", "labelFontSize": 21, "labelColor": "black", "rowPadding": 9, "symbolSize": 81, "symbolStrokeWidth": 1.5, "symbolOffset": 5, "labelOffset": 13}},
"shape": {"field": "s", "type": "nominal",
"scale": {"domain": ["meting doodtij", "meting springtij", "best fit doodtij", "best fit springtij"], "range": ["M-0.9,-0.9L0.9,0.9M-0.9,0.9L0.9,-0.9", "M-1.2,0L1.2,0M0,-1.2L0,1.2", "M-4.5,0L4.5,0M-4.5,-0.15L4.5,-0.15M-4.5,0.15L4.5,0.15", "M-4.5,0L4.5,0M-4.5,-0.15L4.5,-0.15M-4.5,0.15L4.5,0.15"]},
"legend": {"title": null}}
}
},
{
"data": {"name": "fits"},
"transform": [{"filter": "datum.s == 'best fit doodtij'"}],
"mark": {"type": "line", "color": "#0000ff", "strokeWidth": 3, "clip": true, "interpolate": "monotone"},
"encoding": {"x": {"field": "x", "type": "quantitative"}, "y": {"field": "y", "type": "quantitative"}}
},
{
"data": {"name": "fits"},
"transform": [{"filter": "datum.s == 'best fit springtij'"}],
"mark": {"type": "line", "color": "#ff0000", "strokeWidth": 3, "clip": true, "interpolate": "monotone"},
"encoding": {"x": {"field": "x", "type": "quantitative"}, "y": {"field": "y", "type": "quantitative"}}
}
]
}
